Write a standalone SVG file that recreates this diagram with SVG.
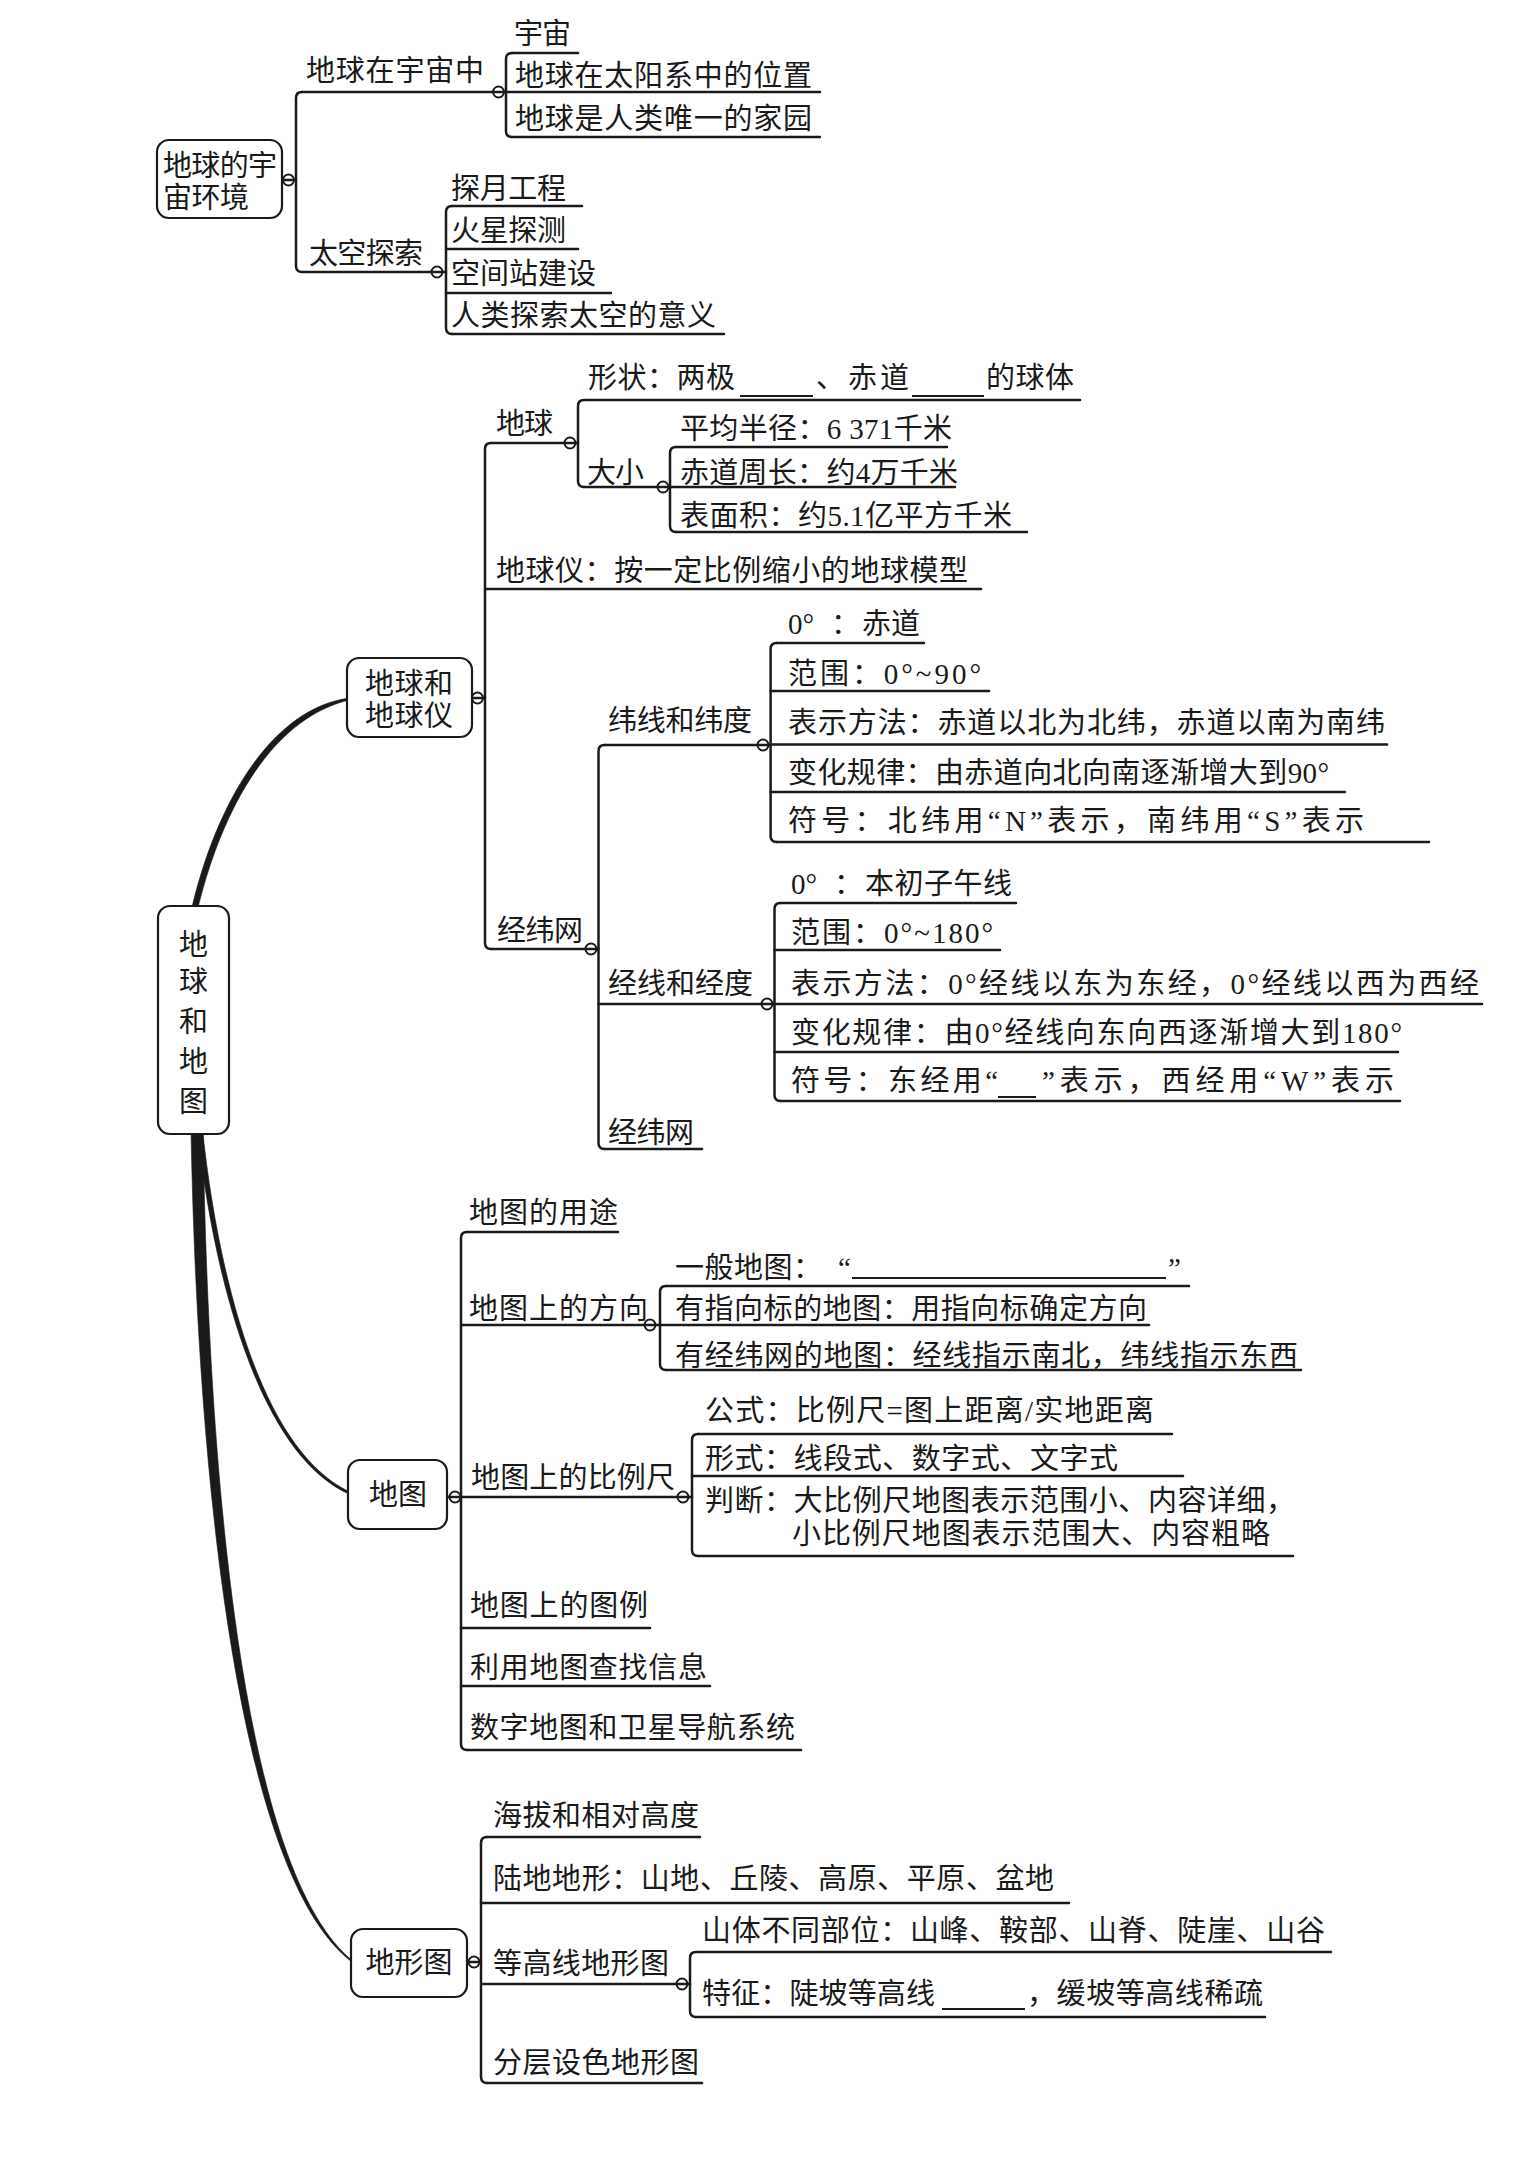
<svg xmlns="http://www.w3.org/2000/svg" width="1527" height="2176" viewBox="0 0 1527 2176">
<style>
.t{font-family:"Liberation Serif","Noto Sans CJK SC",serif;font-size:29px;fill:#1a1a1a}
.m{text-anchor:middle}
.l{stroke:#1a1a1a;stroke-width:2.5;fill:none;stroke-linecap:round;stroke-linejoin:round}
.k{stroke:#1a1a1a;stroke-width:2;fill:none}
.c{fill:none;stroke:#1a1a1a;stroke-width:2}
.b{fill:#fff;stroke:#1a1a1a;stroke-width:2.2}
.th{fill:#1a1a1a;stroke:#1a1a1a;stroke-width:0.6}
</style>
<rect width="1527" height="2176" fill="#fff"/>
<g id="connectors">
  <path class="th" d="M197 912 C218.4 820.8 266.2 719.9 349 700 L349 698 C263.8 710.1 211.6 819.2 191 912 Z"/>
  <path class="th" d="M202.5 1130 C217.5 1269.7 258.8 1449.7 350 1492 L350 1494.5 C257.2 1454.3 212.5 1270.3 197.5 1130 Z"/>
  <path class="th" d="M203 1130 C208.5 1479.9 242.2 1872.3 353 1961.2 L353 1962.8 C237.8 1877.7 197.5 1480.1 191 1130 Z"/>
  <!-- section A -->
  <path class="l" d="M282 180 H296"/><circle class="c" cx="288.5" cy="180" r="5.5"/>
  <path class="l" d="M302 92 Q296 92 296 98 V266 Q296 272 302 272"/>
  <circle class="c" cx="498.5" cy="92" r="5.5"/>
  <path class="l" d="M512 53 Q506 53 506 59 V131 Q506 137 512 137"/>
  <circle class="c" cx="437" cy="272" r="5.5"/>
  <path class="l" d="M452 206 Q446 206 446 212 V328 Q446 334 452 334"/>
  <!-- section B -->
  <path class="l" d="M472 698 H485"/><circle class="c" cx="477.5" cy="698" r="5.5"/>
  <path class="l" d="M491 443 Q485 443 485 449 V943 Q485 949 491 949"/>
  <circle class="c" cx="570" cy="443" r="5.5"/>
  <path class="l" d="M584 400 Q578 400 578 406 V481 Q578 487 584 487"/>
  <circle class="c" cx="663" cy="487" r="5.5"/>
  <path class="l" d="M676 447 Q670 447 670 453 V526 Q670 532 676 532"/>
  <circle class="c" cx="591" cy="949" r="5.5"/>
  <path class="l" d="M604.5 745 Q598.5 745 598.5 751 V1143 Q598.5 1149 604.5 1149"/>
  <circle class="c" cx="763" cy="745" r="5.5"/>
  <path class="l" d="M776.6 643 Q770.6 643 770.6 649 V836 Q770.6 842 776.6 842"/>
  <circle class="c" cx="767" cy="1004" r="5.5"/>
  <path class="l" d="M780.5 903 Q774.5 903 774.5 909 V1095 Q774.5 1101 780.5 1101"/>
  <!-- section C -->
  <path class="l" d="M447 1497 H461"/><circle class="c" cx="455" cy="1497" r="5.5"/>
  <path class="l" d="M467 1232 Q461 1232 461 1238 V1744 Q461 1750 467 1750"/>
  <circle class="c" cx="650" cy="1325" r="5.5"/>
  <path class="l" d="M666 1286 Q660 1286 660 1292 V1364 Q660 1370 666 1370"/>
  <circle class="c" cx="683" cy="1497" r="5.5"/>
  <path class="l" d="M698 1434 Q692 1434 692 1440 V1550 Q692 1556 698 1556"/>
  <!-- section D -->
  <path class="l" d="M467 1962 H481"/><circle class="c" cx="474" cy="1962" r="5.5"/>
  <path class="l" d="M487 1837 Q481 1837 481 1843 V2077 Q481 2083 487 2083"/>
  <circle class="c" cx="682" cy="1984" r="5.5"/>
  <path class="l" d="M696 1952 Q690 1952 690 1958 V2011 Q690 2017 696 2017"/>
</g>

<g id="node-root">
  <rect class="b" x="158" y="906" width="71" height="228" rx="12"/>
  <text class="t m" x="193.5" y="954.5">地</text>
  <text class="t m" x="193.5" y="991.5">球</text>
  <text class="t m" x="193.5" y="1031.5">和</text>
  <text class="t m" x="193.5" y="1071.5">地</text>
  <text class="t m" x="193.5" y="1111.5">图</text>
</g>

<g id="node-cosmos">
  <rect class="b" x="157" y="140" width="125" height="78" rx="12"/>
  <text class="t" x="163" y="175.5" textLength="114" lengthAdjust="spacing">地球的宇</text>
  <text class="t" x="163" y="207.5" textLength="86" lengthAdjust="spacing">宙环境</text>
</g>
<g id="node-earth-in-universe">
  <text class="t" x="306" y="80.5" textLength="178" lengthAdjust="spacing">地球在宇宙中</text>
  <path class="l" d="M302 92 H506"/>
</g>
<g id="node-universe"><text class="t" x="514" y="43.5" textLength="57" lengthAdjust="spacing">宇宙</text><path class="l" d="M512 53 H578"/></g>
<g id="node-solar"><text class="t" x="515" y="85.5" textLength="297" lengthAdjust="spacing">地球在太阳系中的位置</text><path class="l" d="M506 92 H820"/></g>
<g id="node-home"><text class="t" x="515" y="128.5" textLength="297" lengthAdjust="spacing">地球是人类唯一的家园</text><path class="l" d="M512 137 H820"/></g>
<g id="node-space">
  <text class="t" x="309" y="263.5" textLength="114" lengthAdjust="spacing">太空探索</text>
  <path class="l" d="M302 272 H446"/>
</g>
<g id="node-moon"><text class="t" x="451" y="198.5" textLength="115" lengthAdjust="spacing">探月工程</text><path class="l" d="M452 206 H582"/></g>
<g id="node-mars"><text class="t" x="451" y="240.5" textLength="115" lengthAdjust="spacing">火星探测</text><path class="l" d="M446 249 H578"/></g>
<g id="node-station"><text class="t" x="451" y="283.5" textLength="145" lengthAdjust="spacing">空间站建设</text><path class="l" d="M446 293 H611"/></g>
<g id="node-meaning"><text class="t" x="451" y="325.5" textLength="265" lengthAdjust="spacing">人类探索太空的意义</text><path class="l" d="M452 334 H724"/></g>

<g id="node-globe">
  <rect class="b" x="347" y="658" width="125" height="79" rx="12"/>
  <text class="t" x="365" y="693.5" textLength="88" lengthAdjust="spacing">地球和</text>
  <text class="t" x="365" y="725.5" textLength="88" lengthAdjust="spacing">地球仪</text>
</g>
<g id="node-earth"><text class="t" x="496" y="433.5" textLength="57" lengthAdjust="spacing">地球</text><path class="l" d="M491 443 H578"/></g>
<g id="node-shape">
  <text class="t" x="588" y="387.5" textLength="147" lengthAdjust="spacing">形状：两极</text>
  <path class="k" d="M740 396 H813"/>
  <text class="t" x="816" y="387.5" textLength="93" lengthAdjust="spacing">、赤道</text>
  <path class="k" d="M912 396 H984"/>
  <text class="t" x="986" y="387.5" textLength="88" lengthAdjust="spacing">的球体</text>
  <path class="l" d="M584 400 H1080"/>
</g>
<g id="node-size"><text class="t" x="587" y="482.5" textLength="57" lengthAdjust="spacing">大小</text><path class="l" d="M584 487 H670"/></g>
<g id="node-radius"><text class="t" x="680" y="438.5" textLength="272" lengthAdjust="spacing">平均半径：6 371千米</text><path class="l" d="M676 447 H947"/></g>
<g id="node-circ"><text class="t" x="680" y="482.5" textLength="278" lengthAdjust="spacing">赤道周长：约4万千米</text><path class="l" d="M670 487 H955"/></g>
<g id="node-area"><text class="t" x="680" y="525.5" textLength="332" lengthAdjust="spacing">表面积：约5.1亿平方千米</text><path class="l" d="M676 532 H1027"/></g>
<g id="node-globe-model"><text class="t" x="496" y="580.5" textLength="472" lengthAdjust="spacing">地球仪：按一定比例缩小的地球模型</text><path class="l" d="M485 589 H981"/></g>
<g id="node-grid"><text class="t" x="497" y="940.5" textLength="86" lengthAdjust="spacing">经纬网</text><path class="l" d="M491 949 H598.5"/></g>
<g id="node-lat"><text class="t" x="608" y="730.5" textLength="144" lengthAdjust="spacing">纬线和纬度</text><path class="l" d="M604.5 745 H770.6"/></g>
<g id="node-lat0"><text class="t" y="633.5"><tspan x="788">0°</tspan><tspan x="831">：</tspan><tspan x="862">赤道</tspan></text><path class="l" d="M776.6 643 H924"/></g>
<g id="node-lat-range"><text class="t" x="788" y="683.5" textLength="193" lengthAdjust="spacing">范围：0°~90°</text><path class="l" d="M770.6 691 H989"/></g>
<g id="node-lat-method"><text class="t" x="788" y="732.5" textLength="597" lengthAdjust="spacing">表示方法：赤道以北为北纬，赤道以南为南纬</text><path class="l" d="M770.6 744.5 H1387"/></g>
<g id="node-lat-rule"><text class="t" x="788" y="782.5" textLength="541" lengthAdjust="spacing">变化规律：由赤道向北向南逐渐增大到90°</text><path class="l" d="M770.6 792 H1345"/></g>
<g id="node-lat-sym"><text class="t" x="788" y="830.5" textLength="576" lengthAdjust="spacing">符号：北纬用“N”表示，南纬用“S”表示</text><path class="l" d="M776.6 842 H1429"/></g>
<g id="node-lon"><text class="t" x="608" y="993.5" textLength="145" lengthAdjust="spacing">经线和经度</text><path class="l" d="M598.5 1004 H774.5"/></g>
<g id="node-lon0"><text class="t" y="893.5"><tspan x="791">0°</tspan><tspan x="834">：</tspan><tspan x="865" textLength="147" lengthAdjust="spacing">本初子午线</tspan></text><path class="l" d="M780.5 903 H1016"/></g>
<g id="node-lon-range"><text class="t" x="791" y="942.5" textLength="202" lengthAdjust="spacing">范围：0°~180°</text><path class="l" d="M774.5 950 H1000"/></g>
<g id="node-lon-method"><text class="t" x="791" y="993.5" textLength="688" lengthAdjust="spacing">表示方法：0°经线以东为东经，0°经线以西为西经</text><path class="l" d="M774.5 1004 H1482"/></g>
<g id="node-lon-rule"><text class="t" x="791" y="1042.5" textLength="611" lengthAdjust="spacing">变化规律：由0°经线向东向西逐渐增大到180°</text><path class="l" d="M774.5 1052 H1398"/></g>
<g id="node-lon-sym">
  <text class="t" x="791" y="1090.5" textLength="207" lengthAdjust="spacing">符号：东经用“</text>
  <path class="k" d="M998 1097 H1036"/>
  <text class="t" x="1042" y="1090.5" textLength="352" lengthAdjust="spacing">”表示，西经用“W”表示</text>
  <path class="l" d="M780.5 1101 H1400"/>
</g>
<g id="node-grid2"><text class="t" x="608" y="1142.5" textLength="86" lengthAdjust="spacing">经纬网</text><path class="l" d="M604.5 1149 H702"/></g>

<g id="node-map">
  <rect class="b" x="348" y="1460" width="99" height="69" rx="12"/>
  <text class="t m" x="398" y="1505">地图</text>
</g>
<g id="node-map-use"><text class="t" x="469" y="1222.5" textLength="149" lengthAdjust="spacing">地图的用途</text><path class="l" d="M467 1232 H618"/></g>
<g id="node-map-dir"><text class="t" x="469" y="1318.5" textLength="179" lengthAdjust="spacing">地图上的方向</text><path class="l" d="M461 1325 H660"/></g>
<g id="node-dir-general">
  <text class="t" x="675" y="1277.5" textLength="147" lengthAdjust="spacing">一般地图：</text>
  <text class="t" x="838" y="1277.5">“</text>
  <path class="k" d="M852 1278 H1166"/>
  <text class="t" x="1168" y="1277.5">”</text>
  <path class="l" d="M666 1286 H1189"/>
</g>
<g id="node-dir-arrow"><text class="t" x="675" y="1318.5" textLength="472" lengthAdjust="spacing">有指向标的地图：用指向标确定方向</text><path class="l" d="M660 1325 H1149"/></g>
<g id="node-dir-grid"><text class="t" x="675" y="1365.5" textLength="623" lengthAdjust="spacing">有经纬网的地图：经线指示南北，纬线指示东西</text><path class="l" d="M666 1370 H1301"/></g>
<g id="node-scale"><text class="t" x="471" y="1487.5" textLength="204" lengthAdjust="spacing">地图上的比例尺</text><path class="l" d="M461 1497 H692"/></g>
<g id="node-scale-formula"><text class="t" x="705" y="1420.5" textLength="449" lengthAdjust="spacing">公式：比例尺=图上距离/实地距离</text><path class="l" d="M698 1434 H1172"/></g>
<g id="node-scale-form"><text class="t" x="705" y="1468.5" textLength="413" lengthAdjust="spacing">形式：线段式、数字式、文字式</text><path class="l" d="M692 1476 H1183"/></g>
<g id="node-scale-judge">
  <text class="t" x="705" y="1510.5" textLength="590" lengthAdjust="spacing">判断：大比例尺地图表示范围小、内容详细，</text>
  <text class="t" x="792" y="1543.5" textLength="478" lengthAdjust="spacing">小比例尺地图表示范围大、内容粗略</text>
  <path class="l" d="M698 1556 H1293"/>
</g>
<g id="node-legend"><text class="t" x="470" y="1615.5" textLength="178" lengthAdjust="spacing">地图上的图例</text><path class="l" d="M461 1628 H650"/></g>
<g id="node-find"><text class="t" x="470" y="1677.5" textLength="237" lengthAdjust="spacing">利用地图查找信息</text><path class="l" d="M461 1686 H710"/></g>
<g id="node-digital"><text class="t" x="470" y="1737.5" textLength="325" lengthAdjust="spacing">数字地图和卫星导航系统</text><path class="l" d="M467 1750 H801"/></g>

<g id="node-topo">
  <rect class="b" x="351" y="1929" width="116" height="68" rx="12"/>
  <text class="t m" x="409" y="1972.5">地形图</text>
</g>
<g id="node-alt"><text class="t" x="493" y="1825.5" textLength="206" lengthAdjust="spacing">海拔和相对高度</text><path class="l" d="M487 1837 H700"/></g>
<g id="node-land"><text class="t" x="493" y="1888.5" textLength="561" lengthAdjust="spacing">陆地地形：山地、丘陵、高原、平原、盆地</text><path class="l" d="M481 1903 H1069"/></g>
<g id="node-contour"><text class="t" x="493" y="1973.5" textLength="176" lengthAdjust="spacing">等高线地形图</text><path class="l" d="M481 1984 H690"/></g>
<g id="node-parts"><text class="t" x="702" y="1940.5" textLength="623" lengthAdjust="spacing">山体不同部位：山峰、鞍部、山脊、陡崖、山谷</text><path class="l" d="M696 1952 H1331"/></g>
<g id="node-feature">
  <text class="t" x="702" y="2003.5" textLength="233" lengthAdjust="spacing">特征：陡坡等高线</text>
  <path class="k" d="M942 2009 H1025"/>
  <text class="t" x="1027" y="2003.5" textLength="236" lengthAdjust="spacing">，缓坡等高线稀疏</text>
  <path class="l" d="M696 2017 H1265"/>
</g>
<g id="node-layered"><text class="t" x="493" y="2072.5" textLength="206" lengthAdjust="spacing">分层设色地形图</text><path class="l" d="M487 2083 H702"/></g>
</svg>
